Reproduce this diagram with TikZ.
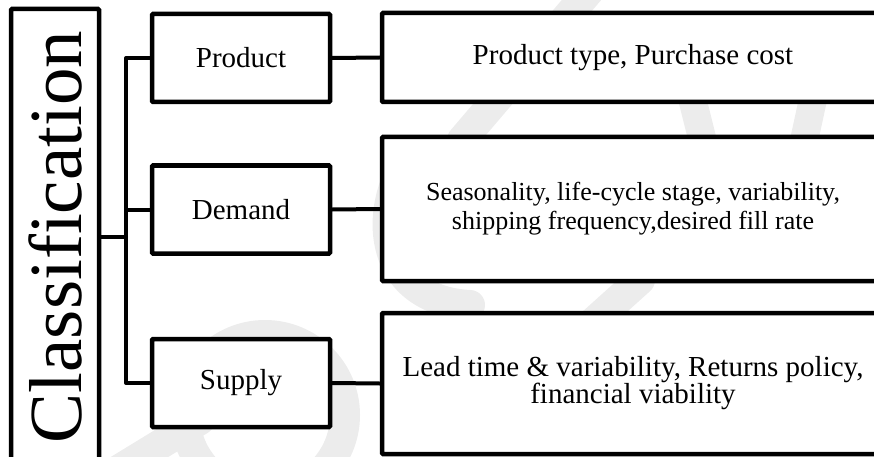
\documentclass[tikz,border=0pt]{standalone}
\usepackage{fontspec}
\setmainfont{Liberation Serif}
\begin{document}
\begin{tikzpicture}[x=1pt,y=-1pt,
  box/.style={draw=black,line width=4.5pt,fill=white,rounded corners=1pt,inner sep=0pt},
  cat/.style={box,minimum width=178pt,minimum height=88pt,font=\fontsize{29}{29}\selectfont},
  info/.style={box,minimum width=502pt,align=center},
  link/.style={line width=4pt,line cap=round,line join=round},
  mark stroke/.style={draw=gray!15,line width=30pt,line cap=round}]
\useasboundingbox (0,0) rectangle (874,457);

% faint background watermark strokes
\begin{scope}
  \clip (0,0) rectangle (874,457);
  \draw[mark stroke] (590,-10) -- (462,140);
  \draw[mark stroke] (415,150) .. controls (372,200) and (372,300) .. (470,305);
  \draw[mark stroke] (265,415) circle[radius=80];
  \draw[mark stroke] (110,475) -- (200,420);
  \draw[mark stroke,line width=28pt] (815,90) -- (802,150);
  \draw[mark stroke,line width=28pt] (690,90) -- (705,150);
  \draw[mark stroke] (640,280) -- (590,325);
\end{scope}

% root box, cut by the bottom edge
\node[box,minimum width=88pt,minimum height=456pt] (root) at (55,237)
  {\rotatebox{90}{\fontsize{75}{75}\selectfont Classification}};

% category boxes
\node[cat] (product) at (241,58) {Product};
\node[cat] (demand)  at (241,209.5) {Demand};
\node[cat] (supply)  at (241,383) {Supply};

% detail boxes, cut by the right edge
\node[info,minimum height=89pt,font=\fontsize{29}{29}\selectfont] (pinfo) at (633,57.5)
  {Product type, Purchase cost};
\node[info,minimum height=144pt,font=\fontsize{26}{29}\selectfont] (dinfo) at (633,209)
  {Seasonality, life-cycle stage, variability,\\shipping frequency,desired fill rate};
\node[info,minimum height=141pt,font=\fontsize{29}{27}\selectfont] (sinfo) at (633,383.5)
  {Lead time \& variability, Returns policy,\\financial viability};

% tree connectors
\coordinate (trunk) at (126,237);
\draw[link] (root.east |- trunk) -- (trunk);
\draw[link] (product.west) -- (126,0 |- product.west) -- (126,0 |- supply.west) -- (supply.west);
\draw[link] (demand.west) -- (126,0 |- demand.west);
\draw[link] (product.east) -- (pinfo.west);
\draw[link] (demand.east) -- (dinfo.west);
\draw[link] (supply.east) -- (sinfo.west);
\end{tikzpicture}
\end{document}
